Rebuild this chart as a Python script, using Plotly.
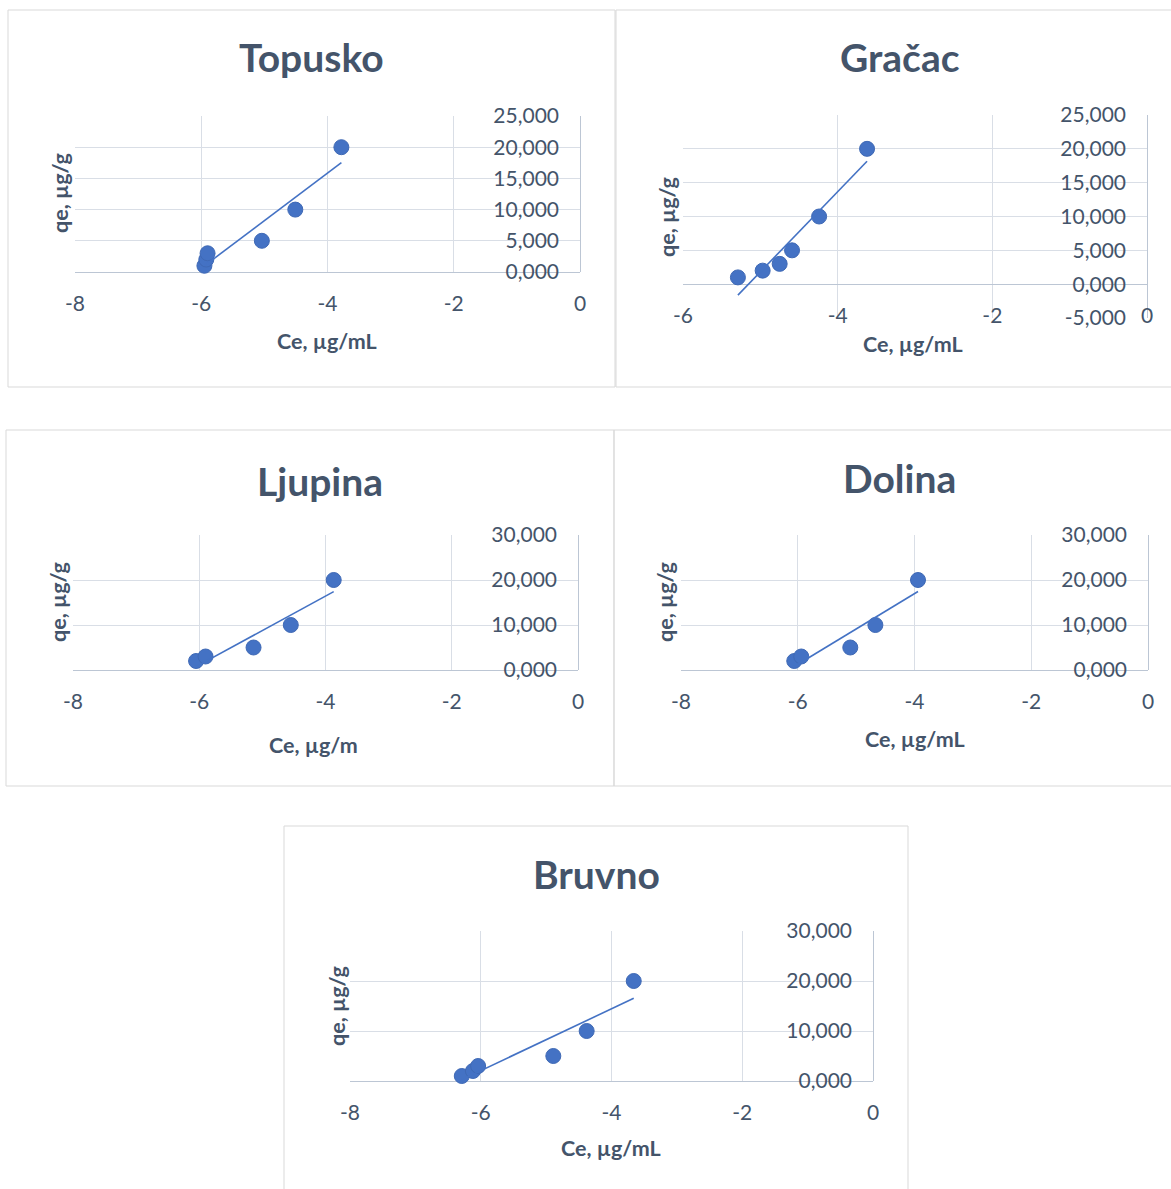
import numpy as np
import plotly.graph_objects as go

W, H = 1171, 1189

# ---------------- data ----------------
topusko_x = [-5.95, -5.92, -5.90, -5.04, -4.51, -3.78]
topusko_y = [1, 2, 3, 5, 10, 20]

gracac_x = [-5.29, -4.97, -4.75, -4.59, -4.24, -3.62]
gracac_y = [1, 2, 3, 5, 10, 20]

ljupina_x = [-6.05, -5.90, -5.14, -4.55, -3.87]
ljupina_y = [2, 3, 5, 10, 20]

dolina_x = [-6.06, -5.94, -5.10, -4.67, -3.94]
dolina_y = [2, 3, 5, 10, 20]

bruvno_x = [-6.29, -6.12, -6.04, -4.89, -4.38, -3.66]
bruvno_y = [1, 2, 3, 5, 10, 20]

x_ticks_8 = [-8, -6, -4, -2, 0]
x_labels_8 = ["-8", "-6", "-4", "-2", "0"]
x_ticks_6 = [-6, -4, -2, 0]
x_labels_6 = ["-6", "-4", "-2", "0"]
y_ticks_25 = [0, 5, 10, 15, 20, 25]
y_labels_25 = ["0,000", "5,000", "10,000", "15,000", "20,000", "25,000"]
y_ticks_g = [-5, 0, 5, 10, 15, 20, 25]
y_labels_g = ["-5,000", "0,000", "5,000", "10,000", "15,000", "20,000", "25,000"]
y_ticks_30 = [0, 10, 20, 30]
y_labels_30 = ["0,000", "10,000", "20,000", "30,000"]

# ---------------- layout helpers ----------------
TEXT = "#44546A"
GRID = "#D9DEE6"
AXIS = "#BCC6D4"
BLUE = "#4472C4"
FONT = "Lato"


def fx(px):
    return px / W


def fy(py):
    return 1 - py / H


panels = [
    dict(name="Topusko", x=topusko_x, y=topusko_y, xr=[-8, 0], yr=[0, 25],
         xt=(x_ticks_8, x_labels_8), yt=(y_ticks_25, y_labels_25),
         dom=(75, 580, 116, 272), title=(311, 57), xlab=(327, 341),
         ylab=(60, 193), xtext="Ce, µg/mL", box=(8, 10, 615, 387)),
    dict(name="Gračac", x=gracac_x, y=gracac_y, xr=[-6, 0], yr=[-5, 25],
         xt=(x_ticks_6, x_labels_6), yt=(y_ticks_g, y_labels_g),
         dom=(683, 1147, 115, 318), title=(900, 57), xlab=(913, 344),
         ylab=(667, 217), xtext="Ce, µg/mL", box=(616, 10, 1180, 387)),
    dict(name="Ljupina", x=ljupina_x, y=ljupina_y, xr=[-8, 0], yr=[0, 30],
         xt=(x_ticks_8, x_labels_8), yt=(y_ticks_30, y_labels_30),
         dom=(73, 578, 535, 670), title=(320, 481), xlab=(313, 745),
         ylab=(58, 602), xtext="Ce, µg/m", box=(6, 430, 614, 786)),
    dict(name="Dolina", x=dolina_x, y=dolina_y, xr=[-8, 0], yr=[0, 30],
         xt=(x_ticks_8, x_labels_8), yt=(y_ticks_30, y_labels_30),
         dom=(681, 1148, 535, 670), title=(899, 478), xlab=(915, 739),
         ylab=(665, 602), xtext="Ce, µg/mL", box=(614, 430, 1180, 786)),
    dict(name="Bruvno", x=bruvno_x, y=bruvno_y, xr=[-8, 0], yr=[0, 30],
         xt=(x_ticks_8, x_labels_8), yt=(y_ticks_30, y_labels_30),
         dom=(350, 873, 931, 1081), title=(596, 874), xlab=(611, 1148),
         ylab=(337, 1006), xtext="Ce, µg/mL", box=(284, 826, 908, 1200)),
]

fig = go.Figure()
layout = dict(
    template="none",
    width=W, height=H, margin=dict(l=0, r=0, t=0, b=0, pad=0, autoexpand=False),
    paper_bgcolor="white", plot_bgcolor="white", showlegend=False,
    font=dict(family=FONT, color=TEXT),
)
annotations = []
shapes = []

for i, p in enumerate(panels, start=1):
    xa = "x" if i == 1 else f"x{i}"
    ya = "y" if i == 1 else f"y{i}"
    xs = np.array(p["x"], dtype=float)
    ys = np.array(p["y"], dtype=float)

    fig.add_trace(go.Scatter(x=xs, y=ys, mode="markers", xaxis=xa, yaxis=ya,
                             cliponaxis=False,
                             marker=dict(size=15, color=BLUE,
                                         line=dict(color="#3F69B5", width=1))))
    slope, icpt = np.polyfit(xs, ys, 1)
    tx = np.array([xs.min(), xs.max()])
    fig.add_trace(go.Scatter(x=tx, y=slope * tx + icpt, mode="lines",
                             xaxis=xa, yaxis=ya,
                             line=dict(color=BLUE, width=1.6)))

    x0, x1, y0, y1 = p["dom"]
    ydom = [fy(y1), fy(y0)]
    xaxis = dict(domain=[fx(x0), fx(x1)], range=p["xr"], automargin=False,
                 tickmode="array",
                 tickvals=p["xt"][0], ticktext=p["xt"][1],
                 showgrid=True, gridcolor=GRID, gridwidth=1,
                 zeroline=True, zerolinecolor=AXIS, zerolinewidth=1,
                 showline=False, ticks="", ticklabelstandoff=17,
                 ticklabeloverflow="allow",
                 tickfont=dict(family=FONT, size=21, color=TEXT),
                 fixedrange=True)
    yr = p["yr"]
    if yr[0] < 0:
        frac = (0 - yr[0]) / (yr[1] - yr[0])
        xaxis.update(anchor="free",
                     position=ydom[0] + (ydom[1] - ydom[0]) * frac)
    else:
        xaxis.update(anchor=ya)
    yaxis = dict(domain=ydom, range=yr, anchor="free", position=fx(x1),
                 automargin=False, tickmode="array",
                 side="left", ticklabelstandoff=21,
                 ticklabeloverflow="allow",
                 tickvals=p["yt"][0], ticktext=p["yt"][1],
                 showgrid=True, gridcolor=GRID, gridwidth=1,
                 zeroline=True, zerolinecolor=AXIS, zerolinewidth=1,
                 showline=False, ticks="",
                 tickfont=dict(family=FONT, size=21, color=TEXT),
                 fixedrange=True)
    layout["xaxis" if i == 1 else f"xaxis{i}"] = xaxis
    layout["yaxis" if i == 1 else f"yaxis{i}"] = yaxis

    bx0, by0, bx1, by1 = p["box"]
    shapes.append(dict(type="rect", xref="paper", yref="paper",
                       x0=fx(bx0), x1=fx(bx1), y0=fy(by1), y1=fy(by0),
                       line=dict(color="#D9D9D9", width=1), layer="below"))

    annotations.append(dict(text=p["name"], x=fx(p["title"][0]),
                            y=fy(p["title"][1]), xref="paper", yref="paper",
                            showarrow=False, xanchor="center", yanchor="middle",
                            font=dict(family=FONT, size=39, color=TEXT,
                                      weight=700)))
    annotations.append(dict(text=p["xtext"], x=fx(p["xlab"][0]),
                            y=fy(p["xlab"][1]), xref="paper", yref="paper",
                            showarrow=False, xanchor="center", yanchor="middle",
                            font=dict(family=FONT, size=21.5, color=TEXT,
                                      weight=700)))
    annotations.append(dict(text="qe, µg/g", x=fx(p["ylab"][0]),
                            y=fy(p["ylab"][1]), xref="paper", yref="paper",
                            showarrow=False, xanchor="center", yanchor="middle",
                            textangle=-90,
                            font=dict(family=FONT, size=21.5, color=TEXT,
                                      weight=700)))

layout["annotations"] = annotations
layout["shapes"] = shapes
fig.update_layout(**layout)
fig.write_html(
    "out.html",
    config={"displayModeBar": False, "staticPlot": True},
    post_script=(
        "document.documentElement.style.margin='0';"
        "document.documentElement.style.overflow='hidden';"
        "document.body.style.margin='0';"
        "document.body.style.padding='0';"
        "document.body.style.overflow='hidden';"
    ),
)
